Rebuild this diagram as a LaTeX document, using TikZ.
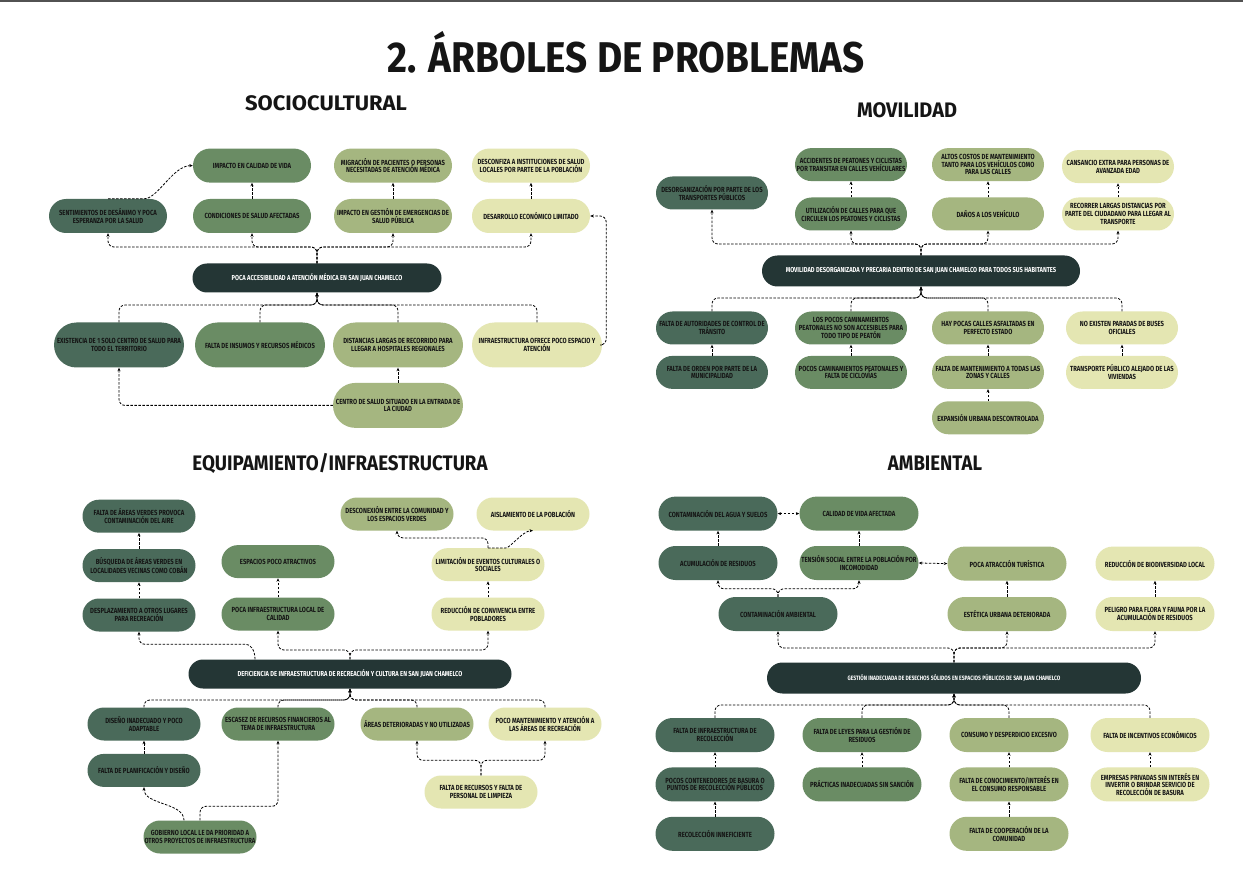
\documentclass[tikz,border=0pt]{standalone}
\usepackage{fontspec}
\setmainfont{Fira Sans}
\newfontfamily\boxfont{Fira Sans}[FakeStretch=0.8]
\newfontfamily\headfont{Fira Sans}[FakeStretch=0.95]
\newfontfamily\titlefont{Fira Sans}[FakeStretch=0.9]
\usetikzlibrary{arrows.meta,positioning}
\definecolor{tA}{HTML}{4A6A5A}
\definecolor{tB}{HTML}{6A8C64}
\definecolor{tC}{HTML}{A5B680}
\definecolor{tD}{HTML}{E4E6B2}
\definecolor{tR}{HTML}{243635}
\definecolor{ink}{HTML}{151515}

\begin{document}
\begin{tikzpicture}[x=1pt,y=-1pt,
    node distance=16pt,
    bx/.style={rectangle,rounded corners=17pt,align=center,minimum width=118pt,minimum height=34pt,inner sep=1pt,text=ink,font={\boxfont\bfseries\fontsize{7.4}{7.8}\selectfont}},
    c1/.style={bx,fill=tA},
    c2/.style={bx,fill=tB},
    c3/.style={bx,fill=tC},
    c4/.style={bx,fill=tD},
    tall/.style={minimum width=130pt,minimum height=45pt,rounded corners=22.5pt},
    root/.style={rectangle,rounded corners=14.5pt,fill=tR,text=white,align=center,minimum height=29pt,inner sep=1pt,font={\boxfont\bfseries\fontsize{7.2}{7.6}\selectfont}},
    head/.style={text=ink,font={\headfont\bfseries\fontsize{21}{21}\selectfont}},
    arr/.style={-{Stealth[length=3.5pt,width=3pt]},line width=0.8pt,dash pattern=on 2.5pt off 1.5pt,rounded corners=6pt},
    dbl/.style={arr,{Stealth[length=3.5pt,width=3pt]}-{Stealth[length=3.5pt,width=3pt]}}
]
\fill[white] (0,0) rectangle (1243,885);
\useasboundingbox (0,0) rectangle (1243,885);
\fill[black!68] (0,0) rectangle (1243,2.5);

\node[text=ink,font={\titlefont\bfseries\fontsize{43}{43}\selectfont}] (title) at (626,52) {2. ÁRBOLES DE PROBLEMAS};
\node[head] (hsoc) at (326,103) {\scalebox{1.1}[1]{SOCIOCULTURAL}};
\node[head] (hmov) at (907,110) {MOVILIDAD};
\node[head] (hequ) at (340,463) {\scalebox{0.94}[1]{EQUIPAMIENTO/INFRAESTRUCTURA}};
\node[head] (hamb) at (935,463) {\scalebox{0.93}[1]{AMBIENTAL}};

% sociocultural
\node[root,minimum width=249pt] (sroot) at (317,278) {POCA ACCESIBILIDAD A ATENCIÓN MÉDICA EN SAN JUAN CHAMELCO};
\node[c1] (sdes) at (108,216) {SENTIMIENTOS DE DESÁNIMO Y POCA\\ESPERANZA POR LA SALUD};
\node[c2] (scon) at (252,216) {CONDICIONES DE SALUD AFECTADAS};
\node[c2,above=of scon] (simp) {IMPACTO EN CALIDAD DE VIDA};
\node[c3] (sges) at (393,216) {IMPACTO EN GESTIÓN DE EMERGENCIAS DE\\SALUD PÚBLICA};
\node[c3,above=of sges] (smig) {MIGRACIÓN DE PACIENTES O PERSONAS\\NECESITADAS DE ATENCIÓN MÉDICA};
\node[c4] (sdev) at (531,216) {DESARROLLO ECONÓMICO LIMITADO};
\node[c4,above=of sdev] (sdcf) {DESCONFIZA A INSTITUCIONES DE SALUD\\LOCALES POR PARTE DE LA POBLACIÓN};
\node[c1,tall] (sexi) at (119,345) {EXISTENCIA DE 1 SOLO CENTRO DE SALUD PARA\\TODO EL TERRITORIO};
\node[c2,tall] (sins) at (260,345) {FALTA DE INSUMOS Y RECURSOS MÉDICOS};
\node[c3,tall] (sdis) at (398,345) {DISTANCIAS LARGAS DE RECORRIDO PARA\\LLEGAR A HOSPITALES REGIONALES};
\node[c4,tall] (sinf) at (537,345) {INFRAESTRUCTURA OFRECE POCO ESPACIO Y\\ATENCIÓN};
\node[c3,tall,below=15pt of sdis] (scen) {CENTRO DE SALUD SITUADO EN LA ENTRADA DE\\LA CIUDAD};
\coordinate (sj) at (317,247);
\coordinate (sk) at (317,305);
\foreach \n in {sdes,scon,sges,sdev} \draw[arr] (sroot.north) -- (sj) -| (\n.south);
\foreach \n in {sexi,sins,sdis,sinf} \draw[arr] (\n.north) |- (sk) -- (sroot.south);
\draw[arr] (scon.north) -- (simp.south);
\draw[arr] (sges.north) -- (smig.south);
\draw[arr] (sdev.north) -- (sdcf.south);
\draw[arr] (scen.north) -- (sdis.south);
\draw[arr] (scen.west) -| (sexi.south);
\draw[arr] (sinf.east) -- ++(4,0) |- (sdev.east);
\draw[arr] (sdes.north) -- ++(30,0) .. controls +(20,0) and +(-20,0) .. (simp.west);

% movilidad
\begin{scope}[bx/.append style={minimum width=112pt,minimum height=33pt,rounded corners=16.5pt}]
\node[root,minimum width=318pt,minimum height=31pt,rounded corners=15.5pt] (mroot) at (921,271) {MOVILIDAD DESORGANIZADA Y PRECARIA DENTRO DE SAN JUAN CHAMELCO PARA TODOS SUS HABITANTES};
\node[c1] (mdes) at (712,193) {DESORGANIZACIÓN POR PARTE DE LOS\\TRANSPORTES PÚBLICOS};
\node[c2] (muti) at (851,214) {UTILIZACIÓN DE CALLES PARA QUE\\CIRCULEN LOS PEATONES Y CICLISTAS};
\node[c2,above=of muti] (macc) {ACCIDENTES DE PEATONES Y CICLISTAS\\POR TRANSITAR EN CALLES VEHÍCULARES};
\node[c3] (mdan) at (988,214) {DAÑOS A LOS VEHÍCULO};
\node[c3,above=of mdan] (malt) {ALTOS COSTOS DE MANTENIMIENTO\\TANTO PARA LOS VEHÍCULOS COMO\\PARA LAS CALLES};
\node[c4] (mrec) at (1118,214) {RECORRER LARGAS DISTANCIAS POR\\PARTE DEL CIUDADANO PARA LLEGAR AL\\TRANSPORTE};
\node[c4,above=14pt of mrec] (mcan) {CANSANCIO EXTRA PARA PERSONAS DE\\AVANZADA EDAD};
\node[c1] (maut) at (712,328) {FALTA DE AUTORIDADES DE CONTROL DE\\TRÁNSITO};
\node[c1,below=11pt of maut] (mord) {FALTA DE ORDEN POR PARTE DE LA\\MUNICIPALIDAD};
\node[c2] (mlos) at (851,328) {LOS POCOS CAMINAMIENTOS\\PEATONALES NO SON ACCESIBLES PARA\\TODO TIPO DE PEATÓN};
\node[c2,below=11pt of mlos] (mpoc) {POCOS CAMINAMIENTOS PEATONALES Y\\FALTA DE CICLOVÍAS};
\node[c3] (mhay) at (988,328) {HAY POCAS CALLES ASFALTADAS EN\\PERFECTO ESTADO};
\node[c3,below=11pt of mhay] (mfal) {FALTA DE MANTENIMIENTO A TODAS LAS\\ZONAS Y CALLES};
\node[c3,below=12pt of mfal] (mexp) {EXPANSIÓN URBANA DESCONTROLADA};
\node[c4] (mnoe) at (1122,328) {NO EXISTEN PARADAS DE BUSES\\OFICIALES};
\node[c4,below=11pt of mnoe] (mtra) {TRANSPORTE PÚBLICO ALEJADO DE LAS\\VIVIENDAS};
\coordinate (mj) at (921,244);
\coordinate (mk) at (921,298);
\foreach \n in {mdes,muti,mdan,mrec} \draw[arr] (mroot.north) -- (mj) -| (\n.south);
\foreach \n in {maut,mlos,mhay,mnoe} \draw[arr] (\n.north) |- (mk) -- (mroot.south);
\draw[arr] (muti.north) -- (macc.south);
\draw[arr] (mdan.north) -- (malt.south);
\draw[arr] (mrec.north) -- (mcan.south);
\draw[arr] (mord.north) -- (maut.south);
\draw[arr] (mpoc.north) -- (mlos.south);
\draw[arr] (mfal.north) -- (mhay.south);
\draw[arr] (mexp.north) -- (mfal.south);
\draw[arr] (mtra.north) -- (mnoe.south);
\end{scope}

% equipamiento / infraestructura
\begin{scope}[bx/.append style={minimum width=113pt,minimum height=33pt,rounded corners=16.5pt}]
\node[root,minimum width=323pt] (eroot) at (350,674) {DEFICIENCIA DE INFRAESTRUCTURA DE RECREACIÓN Y CULTURA EN SAN JUAN CHAMELCO};
\node[c1] (edes) at (139,615) {DESPLAZAMIENTO A OTROS LUGARES\\PARA RECREACIÓN};
\node[c1,above=of edes] (ebus) {BÚSQUEDA DE ÁREAS VERDES EN\\LOCALIDADES VECINAS COMO COBÁN};
\node[c1,above=of ebus] (efal) {FALTA DE ÁREAS VERDES PROVOCA\\CONTAMINACIÓN DEL AIRE};
\node[c2] (epoc) at (278,614) {POCA INFRAESTRUCTURA LOCAL DE\\CALIDAD};
\node[c2,above=19pt of epoc] (eesp) {ESPACIOS POCO ATRACTIVOS};
\node[c4] (ered) at (488,614) {REDUCCIÓN DE CONVIVENCIA ENTRE\\POBLADORES};
\node[c4,above=of ered] (elim) {LIMITACIÓN DE EVENTOS CULTURALES O\\SOCIALES};
\node[c3] (edcx) at (397,514) {DESCONEXIÓN ENTRE LA COMUNIDAD Y\\LOS ESPACIOS VERDES};
\node[c4] (eais) at (533,514) {AISLAMIENTO DE LA POBLACIÓN};
\node[c1] (edis) at (144,724) {DISEÑO INADECUADO Y POCO\\ADAPTABLE};
\node[c1,below=13pt of edis] (epla) {FALTA DE PLANIFICACIÓN Y DISEÑO};
\node[c2] (eesc) at (278,724) {ESCASEZ DE RECURSOS FINANCIEROS AL\\TEMA DE INFRAESTRUCTURA};
\node[c3] (eare) at (417,724) {ÁREAS DETERIORADAS Y NO UTILIZADAS};
\node[c4] (eman) at (545,724) {POCO MANTENIMIENTO Y ATENCIÓN A\\LAS ÁREAS DE RECREACIÓN};
\node[c4] (erec) at (481,792) {FALTA DE RECURSOS Y FALTA DE\\PERSONAL DE LIMPIEZA};
\node[c2] (egob) at (200,837) {GOBIERNO LOCAL LE DA PRIORIDAD A\\OTROS PROYECTOS DE INFRAESTRUCTURA};
\coordinate (ej) at (350,650);
\coordinate (ek) at (350,700);
\draw[arr] (eroot.north) -- (ej) -| (epoc.south);
\draw[arr] (eroot.north) -- (ej) -| (ered.south);
\draw[arr] ([xshift=-95pt]eroot.north) .. controls +(0,-10) and +(10,0) .. ++(-15,-15) -| (edes.south);
\draw[arr] (edes.north) -- (ebus.south);
\draw[arr] (ebus.north) -- (efal.south);
\draw[arr] (epoc.north) -- (eesp.south);
\draw[arr] (ered.north) -- (elim.south);
\draw[arr] (elim.north) -- ++(0,-10) -| (edcx.south);
\draw[arr] (elim.north) -- ++(12,0) .. controls +(10,0) and +(-10,0) .. (eais.south);
\foreach \n in {edis,eesc,eare,eman} \draw[arr] (\n.north) |- (ek) -- (eroot.south);
\draw[arr] (epla.north) -- (edis.south);
\draw[arr] (erec.north) -- ++(0,-15) -| (eare.south);
\draw[arr] (erec.north) -- ++(0,-15) -| (eman.south);
\draw[arr] ([xshift=-16pt]egob.north) .. controls +(0,-18) and +(0,18) .. (epla.south);
\draw[arr] (egob.north) -- ++(0,-14) -| (eesc.south);
\end{scope}

% ambiental
\begin{scope}[bx/.append style={minimum width=119pt,minimum height=34pt}]
\node[root,minimum width=374pt,minimum height=31pt,rounded corners=15.5pt,font={\boxfont\bfseries\fontsize{6.3}{6.8}\selectfont}] (aroot) at (954,678) {GESTIÓN INADECUADA DE DESECHOS SÓLIDOS EN ESPACIOS PÚBLICOS DE SAN JUAN CHAMELCO};
\node[c1] (acam) at (778,614) {CONTAMINACIÓN AMBIENTAL};
\node[c1] (aacu) at (718,563) {ACUMULACIÓN DE RESIDUOS};
\node[c1,above=15pt of aacu] (aagu) {CONTAMINACIÓN DEL AGUA Y SUELOS};
\node[c2] (aten) at (859,563) {TENSIÓN SOCIAL ENTRE LA POBLACIÓN POR\\INCOMODIDAD};
\node[c2,above=15pt of aten] (acal) {CALIDAD DE VIDA AFECTADA};
\node[c3] (aest) at (1007,614) {ESTÉTICA URBANA DETERIORADA};
\node[c3,above=of aest] (atur) {POCA ATRACCIÓN TURÍSTICA};
\node[c4] (apel) at (1155,614) {PELIGRO PARA FLORA Y FAUNA POR LA\\ACUMULACIÓN DE RESIDUOS};
\node[c4,above=of apel] (abio) {REDUCCIÓN DE BIODIVERSIDAD LOCAL};
\node[c1] (ainf) at (715,735) {FALTA DE INFRAESTRUCTURA DE\\RECOLECCIÓN};
\node[c1,below=15pt of ainf] (apoc) {POCOS CONTENEDORES DE BASURA O\\PUNTOS DE RECOLECCIÓN PÚBLICOS};
\node[c1,below=15pt of apoc] (arec) {RECOLECCIÓN INNEFICIENTE};
\node[c2] (aley) at (862,735) {FALTA DE LEYES PARA LA GESTIÓN DE\\RESIDUOS};
\node[c2,below=15pt of aley] (aprc) {PRÁCTICAS INADECUADAS SIN SANCIÓN};
\node[c3] (acon) at (1009,735) {CONSUMO Y DESPERDICIO EXCESIVO};
\node[c3,below=15pt of acon] (acno) {FALTA DE CONOCIMIENTO/INTERÉS EN\\EL CONSUMO RESPONSABLE};
\node[c3,below=15pt of acno] (acoo) {FALTA DE COOPERACIÓN DE LA\\COMUNIDAD};
\node[c4] (ainc) at (1150,735) {FALTA DE INCENTIVOS ECONÓMICOS};
\node[c4,below=15pt of ainc] (aemp) {EMPRESAS PRIVADAS SIN INTERÉS EN\\INVERTIR O BRINDAR SERVICIO DE\\RECOLECCIÓN DE BASURA};
\coordinate (aj) at (954,648);
\coordinate (ak) at (954,705);
\foreach \n in {acam,aest,apel} \draw[arr] (aroot.north) -- (aj) -| (\n.south);
\draw[arr] (acam.north) -- ++(0,-8) -| (aacu.south);
\draw[arr] (acam.north) -- ++(0,-8) -| (aten.south);
\draw[arr] (aacu.north) -- (aagu.south);
\draw[arr] (aten.north) -- (acal.south);
\draw[arr] (aest.north) -- (atur.south);
\draw[arr] (apel.north) -- (abio.south);
\draw[dbl] (aagu.east) -- (acal.west);
\draw[dbl] (aten.east) -- (atur.west);
\foreach \n in {ainf,aley,acon,ainc} \draw[arr] (\n.north) |- (ak) -- (aroot.south);
\draw[arr] (apoc.north) -- (ainf.south);
\draw[arr] (arec.north) -- (apoc.south);
\draw[arr] (aprc.north) -- (aley.south);
\draw[arr] (acno.north) -- (acon.south);
\draw[arr] (acoo.north) -- (acno.south);
\draw[arr] (aemp.north) -- (ainc.south);
\end{scope}
\end{tikzpicture}
\end{document}
